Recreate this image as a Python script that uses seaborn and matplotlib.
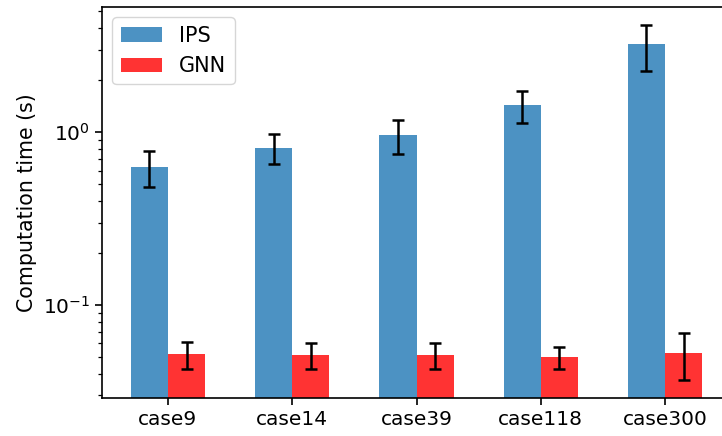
import matplotlib
matplotlib.use("Agg")
import matplotlib.pyplot as plt
import pandas as pd
import seaborn as sns

# Benchmark cases and mean computation times (s) with their std deviations
cases = ["case9", "case14", "case39", "case118", "case300"]
methods = ["IPS", "GNN"]
ips_time = [0.628, 0.815, 0.96, 1.43, 3.22]
ips_err = [0.148, 0.163, 0.215, 0.30, 0.96]
gnn_time = [0.0521, 0.0514, 0.0514, 0.0500, 0.0528]
gnn_err = [0.0092, 0.0087, 0.0088, 0.0072, 0.0160]

plt.rcParams["font.size"] = 14.5
plt.rcParams["font.family"] = ["DejaVu Sans"]

df = pd.DataFrame({
    "case": cases * 2,
    "method": ["IPS"] * len(cases) + ["GNN"] * len(cases),
    "time": ips_time + gnn_time,
})
errs = {"IPS": ips_err, "GNN": gnn_err}

fig = plt.figure(figsize=(7.22, 4.36), dpi=100)
ax = fig.add_axes([102 / 722, 1 - 398 / 436, (731 - 102) / 722, (398 - 7) / 436])

sns.barplot(
    data=df, x="case", y="time", hue="method", hue_order=methods,
    palette={"IPS": "#1f77b4", "GNN": "red"}, saturation=1, alpha=0.8,
    width=0.6, errorbar=None, ax=ax,
)

# error bars placed at the centre of each drawn bar
for container, method in zip(ax.containers, methods):
    xs = [b.get_x() + b.get_width() / 2 for b in container]
    ys = [b.get_height() for b in container]
    ax.errorbar(xs, ys, yerr=errs[method], fmt="none", ecolor="black",
                elinewidth=1.8, capsize=4.5, capthick=1.8, zorder=5)

ax.set_yscale("log")
ax.set_ylim(0.029, 5.3)
ax.set_xlim(-0.53, 4.53)
ax.set_xlabel("")
ax.set_ylabel("Computation time (s)", fontsize=14.8)
for s in ax.spines.values():
    s.set_linewidth(1.2)
ax.tick_params(which="major", length=5, width=1.2)
ax.tick_params(which="minor", length=3, width=0.9)

handles, labels = ax.get_legend_handles_labels()
ax.legend(handles, labels, loc="upper left", title=None, fontsize=15)

fig.savefig("out.png", dpi=100)
